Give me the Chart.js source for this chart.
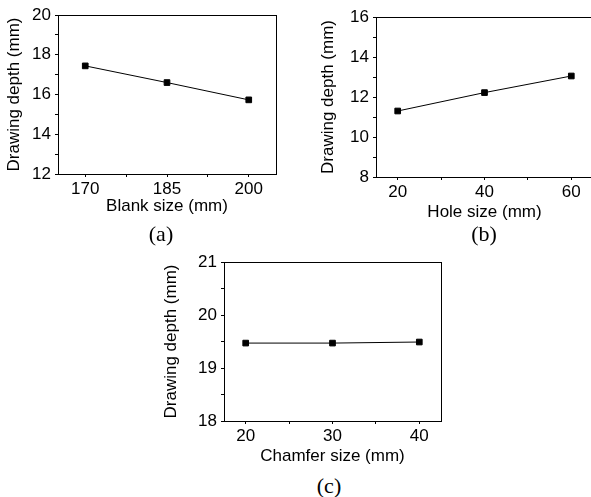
<!DOCTYPE html>
<html>
<head>
<meta charset="utf-8">
<script src="https://cdn.jsdelivr.net/npm/chart.js@4"></script>
<style>
  html, body { margin: 0; padding: 0; background: #fff; overflow: hidden; }
  body { width: 591px; height: 497px; position: relative; }
  canvas { position: absolute; }
  .cap { position: absolute; font: 22px "Liberation Serif", "Times New Roman", serif; color: #000; transform: translate(-50%, -50%); line-height: 1; }
</style>
</head>
<body>
<canvas id="ca" width="290" height="222" style="left:0;top:0"></canvas>
<canvas id="cb" width="300" height="228" style="left:300px;top:0"></canvas>
<canvas id="cc" width="300" height="227" style="left:150px;top:245px"></canvas>
<div class="cap" style="left:161px;top:234px">(a)</div>
<div class="cap" style="left:484px;top:234px">(b)</div>
<div class="cap" style="left:329px;top:486px">(c)</div>
<script>
// (a) blank size
const blankSize = [170, 185, 200];
const depthA = [17.44, 16.6, 15.73];
const xTicksA = [170, 185, 200];
const yTicksA = [12, 14, 16, 18, 20];

// (b) hole size
const holeSize = [20, 40, 60];
const depthB = [11.3, 12.22, 13.05];
const xTicksB = [20, 40, 60];
const yTicksB = [8, 10, 12, 14, 16];

// (c) chamfer size
const chamferSize = [20, 30, 40];
const depthC = [19.47, 19.47, 19.49];
const xTicksC = [20, 30, 40];
const yTicksC = [18, 19, 20, 21];

const FONT = "Arial, 'Liberation Sans', sans-serif";

// majors plus a minor tick halfway between each pair
function withMinors(t) {
  const out = [];
  t.forEach((v, i) => {
    out.push(v);
    if (i < t.length - 1) out.push((v + t[i + 1]) / 2);
  });
  return out;
}

const boxPlugin = {
  id: "box",
  afterDraw(chart) {
    const a = chart.chartArea, ctx = chart.ctx;
    ctx.save();
    ctx.strokeStyle = "#000";
    ctx.lineWidth = 1;
    ctx.strokeRect(Math.round(a.left) + 0.5, Math.round(a.top) + 0.5,
      Math.round(a.right - a.left), Math.round(a.bottom - a.top));
    ctx.restore();
  },
};

function axis(o) {
  const all = withMinors(o.ticks);
  return {
    type: "linear",
    min: o.min,
    max: o.max,
    afterBuildTicks: (s) => { s.ticks = all.map((v) => ({ value: v })); },
    afterFit: (s) => {
      if (o.w) s.width = o.w;
      if (o.h) s.height = o.h;
    },
    grid: { drawOnChartArea: false, drawTicks: true, tickLength: 3, color: "#000" },
    border: { display: true, color: "#000", width: 1 },
    ticks: {
      autoSkip: false,
      maxRotation: 0,
      padding: o.tp,
      color: "#000",
      font: { family: FONT, size: 17 },
      callback: (v) => (o.ticks.includes(v) ? String(v) : ""),
    },
    title: {
      display: true,
      text: o.title,
      color: "#000",
      font: { family: FONT, size: 17 },
      padding: o.pad,
    },
  };
}

function makeChart(id, xs, ys, x, y, padding) {
  return new Chart(document.getElementById(id), {
    type: "scatter",
    data: {
      datasets: [
        {
          data: xs.map((v, i) => ({ x: v, y: ys[i] })),
          showLine: true,
          borderColor: "#000",
          borderWidth: 1,
          tension: 0,
          pointStyle: "rect",
          pointRadius: 4,
          pointBorderWidth: 1,
          pointBackgroundColor: "#000",
          pointBorderColor: "#000",
        },
      ],
    },
    options: {
      responsive: false,
      animation: false,
      layout: { padding },
      plugins: { legend: { display: false }, tooltip: { enabled: false } },
      scales: { x: axis(x), y: axis(y) },
    },
    plugins: [boxPlugin],
  });
}

makeChart("ca", blankSize, depthA,
  { min: 165, max: 205, ticks: xTicksA, title: "Blank size (mm)", h: 48, tp: 2, pad: { top: 0, bottom: 5 } },
  { min: 12, max: 20, ticks: yTicksA, title: "Drawing depth (mm)", w: 58, tp: 4, pad: { top: 4, bottom: 0 } },
  { top: 15, right: 14, left: 0, bottom: 0 });

makeChart("cb", holeSize, depthB,
  { min: 15, max: 65, ticks: xTicksB, title: "Hole size (mm)", h: 51, tp: 2, pad: { top: 0, bottom: 5 } },
  { min: 8, max: 16, ticks: yTicksB, title: "Drawing depth (mm)", w: 76, tp: 4, pad: { top: 18, bottom: 0 } },
  { top: 17, right: 7, left: 0, bottom: 0 });

makeChart("cc", chamferSize, depthC,
  { min: 17.5, max: 42.5, ticks: xTicksC, title: "Chamfer size (mm)", h: 51, tp: 2, pad: { top: 0, bottom: 5 } },
  { min: 18, max: 21, ticks: yTicksC, title: "Drawing depth (mm)", w: 74, tp: 4, pad: { top: 11, bottom: 0 } },
  { top: 17, right: 9, left: 0, bottom: 0 });
</script>
</body>
</html>
